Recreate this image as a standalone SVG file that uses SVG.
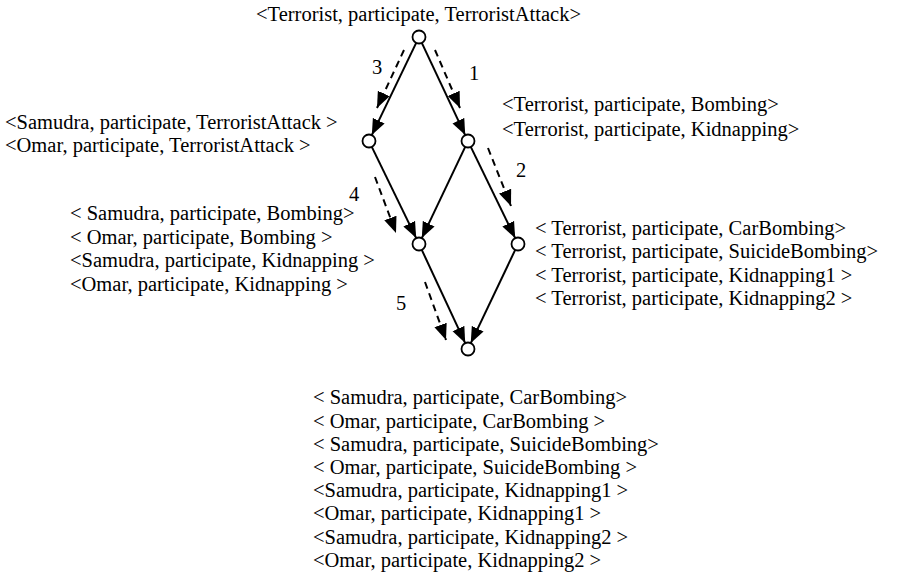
<svg xmlns="http://www.w3.org/2000/svg" width="897" height="585" viewBox="0 0 897 585">
  <style>
    text { font-family: "Liberation Serif", "Times New Roman", serif; font-size: 20.5px; fill: #000; }
    .node { fill: #fff; stroke: #000; stroke-width: 1.8; }
    .edge { stroke: #000; stroke-width: 2; fill: none; marker-end: url(#arrow); }
    .step { stroke: #000; stroke-width: 2; fill: none; stroke-dasharray: 7 5; marker-end: url(#arrow); }
  </style>
  <defs>
    <marker id="arrow" markerUnits="userSpaceOnUse" markerWidth="17" markerHeight="14" refX="16" refY="6.5" orient="auto" viewBox="0 0 17 13">
      <path d="M0,0 L16,6.5 L0,13 Z" fill="#000"/>
    </marker>
  </defs>
  <rect width="897" height="585" fill="#fff"/>

  <!-- connectors: solid subsumption edges and dashed numbered steps -->
  <g id="connectors">
    <line class="edge" x1="416.2" y1="42.9" x2="371.8" y2="135.1"/>
    <line class="edge" x1="421.8" y1="42.9" x2="465.2" y2="135.1"/>
    <line class="edge" x1="371.8" y1="146.9" x2="416.2" y2="238.1"/>
    <line class="edge" x1="465.2" y1="146.9" x2="421.8" y2="238.1"/>
    <line class="edge" x1="470.8" y1="146.9" x2="515.2" y2="238.1"/>
    <line class="edge" x1="421.8" y1="249.9" x2="465.2" y2="343.1"/>
    <line class="edge" x1="515.2" y1="249.9" x2="470.8" y2="343.1"/>

    <line class="step" x1="404" y1="50" x2="377" y2="108"/>
    <line class="step" x1="435" y1="50" x2="460" y2="108"/>
    <line class="step" x1="488" y1="148" x2="511" y2="206"/>
    <line class="step" x1="375" y1="177" x2="396" y2="233"/>
    <line class="step" x1="425" y1="282" x2="446" y2="340"/>

    <text x="372" y="74">3</text>
    <text x="469" y="80">1</text>
    <text x="516" y="177">2</text>
    <text x="349" y="201">4</text>
    <text x="396" y="310">5</text>
  </g>

  <g id="n-top">
    <circle class="node" cx="419" cy="37" r="6.5"/>
    <text x="256" y="21">&lt;Terrorist, participate, TerroristAttack&gt;</text>
  </g>

  <g id="n-left">
    <circle class="node" cx="369" cy="141" r="6.5"/>
    <text x="5" y="129">&lt;Samudra, participate, TerroristAttack &gt;</text>
    <text x="5" y="152">&lt;Omar, participate, TerroristAttack &gt;</text>
  </g>

  <g id="n-right">
    <circle class="node" cx="468" cy="141" r="6.5"/>
    <text x="502" y="111">&lt;Terrorist, participate, Bombing&gt;</text>
    <text x="502" y="136">&lt;Terrorist, participate, Kidnapping&gt;</text>
  </g>

  <g id="n-lower-mid">
    <circle class="node" cx="419" cy="244" r="6.5"/>
    <text x="70" y="220">&lt; Samudra, participate, Bombing&gt;</text>
    <text x="70" y="244">&lt; Omar, participate, Bombing &gt;</text>
    <text x="70" y="267">&lt;Samudra, participate, Kidnapping &gt;</text>
    <text x="70" y="291">&lt;Omar, participate, Kidnapping &gt;</text>
  </g>

  <g id="n-lower-right">
    <circle class="node" cx="518" cy="244" r="6.5"/>
    <text x="535" y="235">&lt; Terrorist, participate, CarBombing&gt;</text>
    <text x="535" y="258">&lt; Terrorist, participate, SuicideBombing&gt;</text>
    <text x="535" y="282">&lt; Terrorist, participate, Kidnapping1 &gt;</text>
    <text x="535" y="305">&lt; Terrorist, participate, Kidnapping2 &gt;</text>
  </g>

  <g id="n-bottom">
    <circle class="node" cx="468" cy="349" r="6.5"/>
    <text x="313" y="404">&lt; Samudra, participate, CarBombing&gt;</text>
    <text x="313" y="428">&lt; Omar, participate, CarBombing &gt;</text>
    <text x="313" y="451">&lt; Samudra, participate, SuicideBombing&gt;</text>
    <text x="313" y="474">&lt; Omar, participate, SuicideBombing &gt;</text>
    <text x="313" y="497">&lt;Samudra, participate, Kidnapping1 &gt;</text>
    <text x="313" y="520">&lt;Omar, participate, Kidnapping1 &gt;</text>
    <text x="313" y="544">&lt;Samudra, participate, Kidnapping2 &gt;</text>
    <text x="313" y="567">&lt;Omar, participate, Kidnapping2 &gt;</text>
  </g>
</svg>
